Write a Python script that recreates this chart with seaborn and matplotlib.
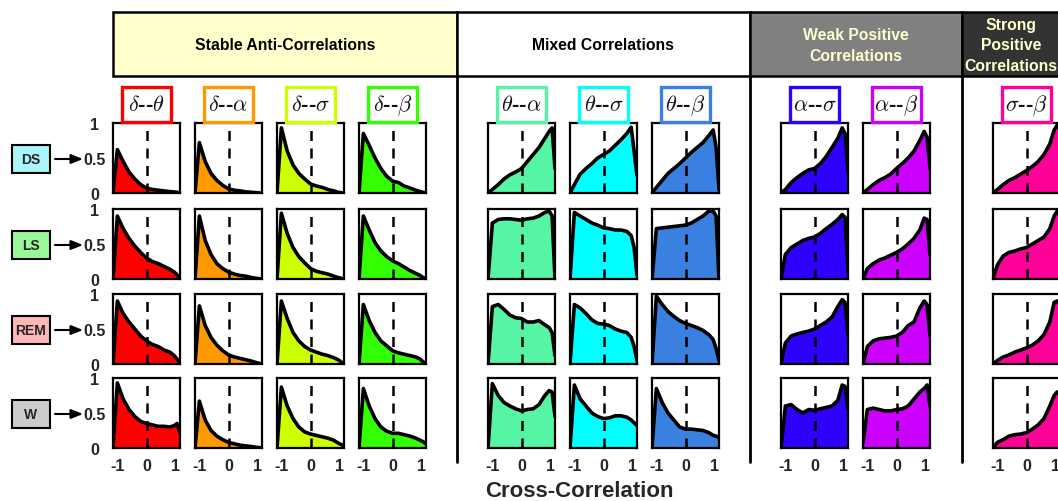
import numpy as np
import pandas as pd
import matplotlib
matplotlib.use('Agg')
import matplotlib.pyplot as plt
import seaborn as sns
from matplotlib.patches import Rectangle, FancyArrowPatch
from matplotlib.lines import Line2D

sns.set_theme(style='white')
plt.rcParams['font.family'] = ['Liberation Sans', 'DejaVu Sans']
plt.rcParams['mathtext.fontset'] = 'cm'

# ---------------- data ----------------
x_grid = [-1.15, -1.0, -0.8, -0.6, -0.4, -0.2, 0.0, 0.2, 0.4, 0.6, 0.8, 0.95, 1.05, 1.15]
states = ['DS', 'LS', 'REM', 'W']
state_colors = ['#aaf4fb', '#99f999', '#ffb6b6', '#cccccc']

pair_labels = [r'$\delta$--$\theta$', r'$\delta$--$\alpha$', r'$\delta$--$\sigma$', r'$\delta$--$\beta$',
               r'$\theta$--$\alpha$', r'$\theta$--$\sigma$', r'$\theta$--$\beta$',
               r'$\alpha$--$\sigma$', r'$\alpha$--$\beta$', r'$\sigma$--$\beta$']
pair_colors = ['#ff0000', '#ff9900', '#ccff00', '#33ff00',
               '#55f5a5', '#00ffff', '#3a80e0',
               '#3000ff', '#cc00ff', '#ff0099']

group_names = ['Stable Anti-Correlations', 'Mixed Correlations',
               'Weak Positive\nCorrelations', 'Strong\nPositive\nCorrelations']

# rows: DS, LS, REM, W
delta_theta = [
    [0, 0.62, 0.45, 0.30, 0.20, 0.12, 0.07, 0.05, 0.04, 0.03, 0.02, 0.015, 0.01, 0.0],
    [0, 0.90, 0.72, 0.58, 0.47, 0.38, 0.30, 0.25, 0.22, 0.18, 0.14, 0.10, 0.06, 0.02],
    [0, 0.90, 0.72, 0.60, 0.50, 0.40, 0.33, 0.28, 0.25, 0.20, 0.17, 0.12, 0.07, 0.02],
    [0, 0.93, 0.70, 0.55, 0.45, 0.38, 0.35, 0.33, 0.31, 0.31, 0.30, 0.32, 0.35, 0.22]]
delta_alpha = [
    [0, 0.72, 0.45, 0.28, 0.18, 0.11, 0.06, 0.04, 0.03, 0.015, 0.01, 0.005, 0.0, 0.0],
    [0, 0.90, 0.55, 0.35, 0.22, 0.15, 0.10, 0.07, 0.05, 0.04, 0.02, 0.01, 0.005, 0.0],
    [0, 0.83, 0.55, 0.38, 0.27, 0.19, 0.13, 0.10, 0.08, 0.06, 0.04, 0.02, 0.01, 0.0],
    [0, 0.67, 0.40, 0.25, 0.17, 0.12, 0.08, 0.06, 0.04, 0.03, 0.02, 0.01, 0.005, 0.0]]
delta_sigma = [
    [0, 0.93, 0.60, 0.40, 0.28, 0.20, 0.13, 0.10, 0.08, 0.05, 0.03, 0.01, 0.005, 0.0],
    [0, 0.94, 0.65, 0.45, 0.32, 0.23, 0.15, 0.11, 0.09, 0.07, 0.04, 0.02, 0.01, 0.0],
    [0, 0.90, 0.65, 0.45, 0.33, 0.25, 0.20, 0.17, 0.14, 0.12, 0.09, 0.06, 0.03, 0.0],
    [0, 0.87, 0.60, 0.42, 0.30, 0.23, 0.20, 0.18, 0.16, 0.14, 0.11, 0.07, 0.05, 0.03]]
delta_beta = [
    [0, 0.85, 0.68, 0.50, 0.35, 0.24, 0.17, 0.15, 0.10, 0.07, 0.04, 0.02, 0.01, 0.0],
    [0, 0.90, 0.70, 0.52, 0.40, 0.32, 0.26, 0.22, 0.17, 0.12, 0.08, 0.05, 0.02, 0.0],
    [0, 0.85, 0.62, 0.45, 0.33, 0.26, 0.19, 0.16, 0.14, 0.12, 0.10, 0.07, 0.03, 0.01],
    [0, 0.85, 0.60, 0.42, 0.30, 0.24, 0.21, 0.21, 0.19, 0.17, 0.14, 0.11, 0.09, 0.06]]
theta_alpha = [
    [0, 0.05, 0.12, 0.20, 0.26, 0.30, 0.35, 0.45, 0.55, 0.65, 0.78, 0.88, 0.93, 0.35],
    [0, 0.80, 0.85, 0.86, 0.86, 0.85, 0.84, 0.86, 0.87, 0.90, 0.95, 0.97, 0.90, 0.0],
    [0, 0.82, 0.85, 0.78, 0.70, 0.66, 0.65, 0.60, 0.60, 0.62, 0.56, 0.52, 0.45, 0.12],
    [0, 0.92, 0.75, 0.65, 0.60, 0.56, 0.53, 0.55, 0.56, 0.62, 0.75, 0.82, 0.80, 0.45]]
theta_sigma = [
    [0, 0.12, 0.27, 0.35, 0.42, 0.50, 0.55, 0.60, 0.68, 0.76, 0.85, 0.94, 0.60, 0.25],
    [0, 0.95, 0.90, 0.85, 0.80, 0.77, 0.73, 0.72, 0.70, 0.70, 0.68, 0.62, 0.45, 0.05],
    [0, 0.85, 0.80, 0.72, 0.63, 0.58, 0.57, 0.55, 0.50, 0.47, 0.45, 0.38, 0.25, 0.05],
    [0, 0.90, 0.70, 0.60, 0.50, 0.45, 0.42, 0.43, 0.46, 0.46, 0.44, 0.40, 0.36, 0.32]]
theta_beta = [
    [0, 0.08, 0.18, 0.28, 0.35, 0.42, 0.50, 0.58, 0.65, 0.72, 0.82, 0.90, 0.65, 0.05],
    [0, 0.72, 0.73, 0.74, 0.75, 0.76, 0.77, 0.80, 0.85, 0.90, 0.97, 0.97, 0.90, 0.0],
    [0, 0.97, 0.85, 0.75, 0.68, 0.62, 0.58, 0.55, 0.52, 0.48, 0.42, 0.35, 0.22, 0.05],
    [0, 0.85, 0.65, 0.50, 0.40, 0.30, 0.27, 0.27, 0.26, 0.25, 0.22, 0.18, 0.17, 0.15]]
alpha_sigma = [
    [0, 0.05, 0.15, 0.22, 0.28, 0.33, 0.35, 0.42, 0.52, 0.65, 0.78, 0.93, 0.85, 0.30],
    [0, 0.35, 0.45, 0.50, 0.55, 0.58, 0.60, 0.65, 0.72, 0.78, 0.85, 0.92, 0.88, 0.10],
    [0, 0.30, 0.40, 0.43, 0.45, 0.47, 0.50, 0.55, 0.60, 0.67, 0.82, 0.92, 0.88, 0.40],
    [0, 0.60, 0.62, 0.55, 0.50, 0.55, 0.54, 0.56, 0.58, 0.60, 0.68, 0.90, 0.88, 0.55]]
alpha_beta = [
    [0, 0.05, 0.12, 0.18, 0.22, 0.27, 0.35, 0.42, 0.50, 0.60, 0.75, 0.88, 0.80, 0.35],
    [0, 0.15, 0.22, 0.27, 0.30, 0.34, 0.38, 0.43, 0.50, 0.58, 0.70, 0.87, 0.85, 0.35],
    [0, 0.25, 0.33, 0.36, 0.37, 0.38, 0.40, 0.45, 0.55, 0.60, 0.80, 0.90, 0.85, 0.40],
    [0.07, 0.55, 0.57, 0.55, 0.53, 0.53, 0.55, 0.56, 0.60, 0.70, 0.80, 0.85, 0.90, 0.60]]
sigma_beta = [
    [0, 0.05, 0.12, 0.18, 0.22, 0.27, 0.32, 0.38, 0.45, 0.55, 0.70, 0.90, 0.97, 0.90],
    [0, 0.20, 0.33, 0.38, 0.40, 0.43, 0.45, 0.50, 0.55, 0.60, 0.72, 0.90, 0.97, 0.90],
    [0, 0.05, 0.10, 0.13, 0.17, 0.20, 0.23, 0.27, 0.33, 0.42, 0.60, 0.88, 0.90, 0.85],
    [0, 0.08, 0.12, 0.17, 0.19, 0.20, 0.22, 0.27, 0.33, 0.42, 0.60, 0.75, 0.80, 0.75]]

all_pairs = [delta_theta, delta_alpha, delta_sigma, delta_beta,
             theta_alpha, theta_sigma, theta_beta,
             alpha_sigma, alpha_beta, sigma_beta]

# ---------------- layout (pixels) ----------------
W_PX, H_PX = 1058, 502
fig = plt.figure(figsize=(W_PX / 100, H_PX / 100), dpi=100)

def fx(x):
    return x / W_PX

def fy(y):
    return 1 - y / H_PX

col_left = [113, 195, 277, 359, 488, 570, 652, 781, 863, 993]
row_top = [124, 210, 295, 379]
pw, ph = 67, 70

# group headers
hdr_top, hdr_bot = 13, 77
groups = [(113, 457, '#ffffcc', 'black', 285),
          (457, 750, '#ffffff', 'black', 603),
          (750, 962, '#808080', '#ffffcc', 856),
          (962, 1075, '#333333', '#ffffcc', 1011)]
for (x0, x1, fc, tc, xc), name in zip(groups, group_names):
    fig.add_artist(Rectangle((fx(x0), fy(hdr_bot)), fx(x1) - fx(x0), fy(hdr_top) - fy(hdr_bot),
                             transform=fig.transFigure, facecolor=fc, edgecolor='black',
                             lw=1.8, zorder=1))
    fig.text(fx(xc), fy((hdr_top + hdr_bot) / 2 + 1), name, ha='center', va='center',
             fontsize=11.3, fontweight='bold', color=tc, linespacing=1.45, zorder=2)

# vertical separators
for xs in [457, 750, 962]:
    fig.add_artist(Line2D([fx(xs), fx(xs)], [fy(77), fy(463)], transform=fig.transFigure,
                          color='black', lw=2))

# panels
for ci, (curves, col, lab) in enumerate(zip(all_pairs, pair_colors, pair_labels)):
    x0 = col_left[ci]
    # title box
    bw, bh = 49, 35
    bx = x0 + pw / 2 - bw / 2
    fig.add_artist(Rectangle((fx(bx), fy(row_top[0] - 1)), fx(bw), bh / H_PX,
                             transform=fig.transFigure, facecolor='white', edgecolor=col,
                             lw=2.4, zorder=3))
    fig.text(fx(x0 + pw / 2), fy(row_top[0] - 1 - bh / 2), lab, ha='center', va='center',
             fontsize=16, fontweight='bold', color='#111111', zorder=4)
    for ri, vals in enumerate(curves):
        y0 = row_top[ri]
        ax = fig.add_axes([fx(x0), fy(y0 + ph), fx(pw), ph / H_PX])
        df = pd.DataFrame({'x': x_grid, 'y': vals})
        ax.fill_between(df['x'], df['y'], color=col, lw=0, zorder=1)
        ax.axvline(0, color='black', lw=1.8, ls=(0, (4, 3)), zorder=2)
        sns.lineplot(data=df, x='x', y='y', ax=ax, color='black', lw=2.6, zorder=3)
        ax.set_xlim(-1.15, 1.15)
        ax.set_ylim(0, 1)
        ax.set_xlabel('')
        ax.set_ylabel('')
        for sp in ax.spines.values():
            sp.set_color('black')
            sp.set_linewidth(1.6)
            sp.set_zorder(5)
        ax.set_yticks([0, 0.5, 1])
        ax.set_xticks([-1, 0, 1])
        ax.tick_params(axis='both', direction='in', length=2, width=1, color='black')
        if ci == 0:
            ax.set_yticklabels(['0', '0.5', '1'], fontsize=11.5, fontweight='bold')
            ax.tick_params(axis='y', pad=13)
            for t in ax.get_yticklabels():
                t.set_ha('center')
        else:
            ax.set_yticklabels([])
        if ri == 3:
            ax.set_xticklabels(['-1', '0', '1'], fontsize=11.5, fontweight='bold')
            ax.tick_params(axis='x', pad=7)
        else:
            ax.set_xticklabels([])

# row labels with arrows
for ri, (st, sc) in enumerate(zip(states, state_colors)):
    yc = row_top[ri] + 36
    fig.add_artist(Rectangle((fx(12), fy(yc + 14)), fx(38), 28 / H_PX, transform=fig.transFigure,
                             facecolor=sc, edgecolor='black', lw=1.5))
    fig.text(fx(31), fy(yc), st, ha='center', va='center', fontsize=10, fontweight='bold')
    fig.add_artist(FancyArrowPatch((fx(55), fy(yc)), (fx(83), fy(yc)), transform=fig.transFigure,
                                   arrowstyle='-|>,head_length=0.5,head_width=0.2', color='black',
                                   lw=1.5, mutation_scale=14, shrinkA=0, shrinkB=0))

fig.text(fx(579), fy(492), 'Cross-Correlation', ha='center', va='center',
         fontsize=16, fontweight='bold')

fig.savefig('out.png', dpi=100)
